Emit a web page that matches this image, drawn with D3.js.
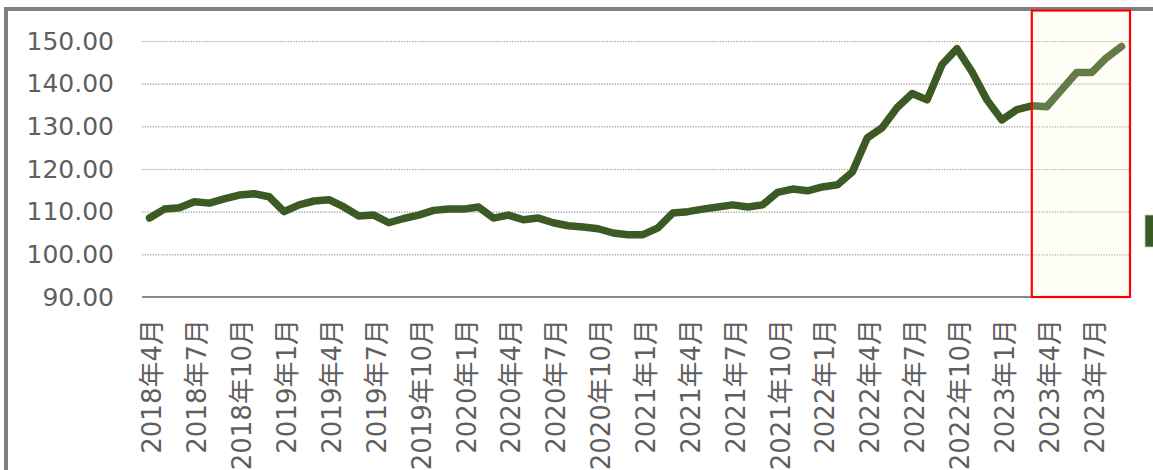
<!DOCTYPE html>
<html>
<head>
<meta charset="utf-8">
<script src="https://cdn.jsdelivr.net/npm/d3@7"></script>
<style>
  body { margin: 0; background: #fff; }
  svg { display: block; }
  text { font-family: "DejaVu Sans", "Noto Sans CJK JP", sans-serif; fill: #5f5f5f; }
</style>
</head>
<body>
<svg id="chart" width="1153" height="470"></svg>
<script>
// monthly categories (2018/4 .. 2023/9)
var months = [
  "2018年4月","2018年5月","2018年6月","2018年7月","2018年8月","2018年9月",
  "2018年10月","2018年11月","2018年12月","2019年1月","2019年2月","2019年3月",
  "2019年4月","2019年5月","2019年6月","2019年7月","2019年8月","2019年9月",
  "2019年10月","2019年11月","2019年12月","2020年1月","2020年2月","2020年3月",
  "2020年4月","2020年5月","2020年6月","2020年7月","2020年8月","2020年9月",
  "2020年10月","2020年11月","2020年12月","2021年1月","2021年2月","2021年3月",
  "2021年4月","2021年5月","2021年6月","2021年7月","2021年8月","2021年9月",
  "2021年10月","2021年11月","2021年12月","2022年1月","2022年2月","2022年3月",
  "2022年4月","2022年5月","2022年6月","2022年7月","2022年8月","2022年9月",
  "2022年10月","2022年11月","2022年12月","2023年1月","2023年2月","2023年3月",
  "2023年4月","2023年5月","2023年6月","2023年7月","2023年8月","2023年9月"
];

var values = [
  108.5, 110.6, 110.9, 112.3, 112.0, 113.0,
  113.9, 114.2, 113.5, 110.0, 111.6, 112.5,
  112.8, 111.1, 109.0, 109.2, 107.4, 108.4,
  109.2, 110.3, 110.6, 110.6, 111.1, 108.5,
  109.2, 108.1, 108.5, 107.4, 106.7, 106.4,
  106.0, 105.0, 104.6, 104.6, 106.2, 109.7,
  110.0, 110.6, 111.1, 111.6, 111.1, 111.6,
  114.5, 115.3, 114.9, 115.8, 116.3, 119.3,
  127.3, 129.7, 134.4, 137.7, 136.2, 144.5,
  148.2, 142.8, 136.2, 131.5, 133.9, 134.8,
  134.6, 138.6, 142.6, 142.6, 146.1, 148.7
];

var yTicks = [90, 100, 110, 120, 130, 140, 150];
var highlightFrom = "2023年3月";

(function () {
  var svg = d3.select("#chart");
  var W = 1153, H = 470;
  var plotLeft = 142, plotRight = 1129, plotTop = 41, plotBottom = 297;

  // outer chart frame (cut by the picture edge)
  svg.append("rect")
    .attr("x", 6).attr("y", 9)
    .attr("width", W + 20).attr("height", H + 20)
    .attr("fill", "#fff")
    .attr("stroke", "#808080")
    .attr("stroke-width", 4);

  var x = d3.scaleBand().domain(months).range([plotLeft, plotRight]).padding(0);
  var y = d3.scaleLinear().domain([90, 150]).range([plotBottom, plotTop]);
  var cx = function (d) { return x(d) + x.bandwidth() / 2; };

  // gridlines + y labels
  var yAxis = d3.axisLeft(y)
    .tickValues(yTicks)
    .tickSize(-(plotRight - plotLeft))
    .tickPadding(28)
    .tickFormat(d3.format(".2f"));

  var gy = svg.append("g")
    .attr("transform", "translate(" + plotLeft + ",0)")
    .call(yAxis);
  gy.select(".domain").remove();
  gy.selectAll(".tick line")
    .attr("stroke", "#a6a6a6")
    .attr("stroke-dasharray", "1.5,1.2")
    .attr("stroke-width", 1.2)
    .filter(function (d) { return d === 90; }).remove();
  gy.selectAll(".tick text")
    .style("font-size", "25px")
    .attr("fill", "#5f5f5f");

  // category axis line
  svg.append("line")
    .attr("x1", plotLeft).attr("x2", plotRight)
    .attr("y1", y(90)).attr("y2", y(90))
    .attr("stroke", "#898989")
    .attr("stroke-width", 2);

  // x labels every 3 months, rotated
  svg.append("g").selectAll("text")
    .data(months.filter(function (d, i) { return i % 3 === 0; }))
    .join("text")
    .attr("transform", function (d) {
      return "translate(" + (cx(d) + 3) + "," + (plotBottom + 22) + ") rotate(-90)";
    })
    .attr("text-anchor", "end")
    .attr("dominant-baseline", "central")
    .style("font-size", "26px")
    .text(function (d) { return d; });

  // the series line
  var line = d3.line()
    .x(function (d, i) { return cx(months[i]); })
    .y(function (d) { return y(d); });

  svg.append("path")
    .datum(values)
    .attr("d", line)
    .attr("fill", "none")
    .attr("stroke", "#3b5a24")
    .attr("stroke-width", 7.5)
    .attr("stroke-linejoin", "round")
    .attr("stroke-linecap", "round");

  // highlight box over the latest months
  var hx = cx(highlightFrom);
  svg.append("rect")
    .attr("x", hx).attr("y", 10.5)
    .attr("width", plotRight + 1 - hx)
    .attr("height", plotBottom - 10.5)
    .attr("fill", "rgb(255,255,215)")
    .attr("fill-opacity", 0.2)
    .attr("stroke", "#ff0000")
    .attr("stroke-width", 2.2);

  // legend key, cut at the right edge
  svg.append("rect")
    .attr("x", 1145).attr("y", 215)
    .attr("width", 14).attr("height", 32)
    .attr("fill", "#3b5a24")
    .attr("stroke", "#c8cfc0")
    .attr("stroke-width", 0.8);
})();
</script>
</body>
</html>
